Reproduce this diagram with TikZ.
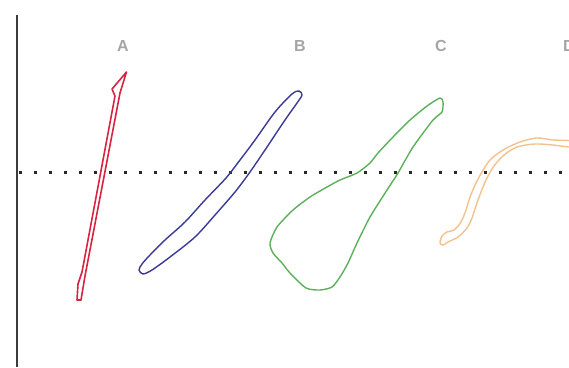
\documentclass[tikz,border=0pt]{standalone}
\usepackage{fontspec}
\setsansfont{Liberation Sans}
\usetikzlibrary{positioning}
\definecolor{axisclr}{RGB}{60,60,60}
\definecolor{dotclr}{RGB}{40,40,40}
\definecolor{lblclr}{RGB}{165,165,165}
\definecolor{loopred}{RGB}{214,36,66}
\definecolor{loopblue}{RGB}{58,58,150}
\definecolor{loopgreen}{RGB}{92,176,92}
\definecolor{looporange}{RGB}{243,194,140}
\tikzset{
  axisln/.style={line width=2pt,color=axisclr},
  refln/.style={line width=3pt,color=dotclr,dash pattern=on 3pt off 12pt},
  lbl/.style={font=\sffamily\bfseries\fontsize{16}{16}\selectfont,
    text=lblclr,inner sep=0pt},
  pvloop/.style={line width=1.4pt,line join=round},
}
\begin{document}
\begin{tikzpicture}[x=1pt,y=-1pt]
  \useasboundingbox (0,0) rectangle (569,367);

  \draw[axisln] (17,15) -- (17,367);
  \draw[refln] (18.5,172) -- (569,172);

  \node[lbl] (lblA) at (123,46) {A};
  \node[lbl] (lblB) at (300,46) {B};
  \node[lbl] (lblC) at (441,46) {C};
  \node[lbl] (lblD) at (569,46) {D};

  % loop A
  \draw[pvloop,line width=1.6pt,loopred] (126.5,72) -- (120,93) -- (85,276)
    -- (81,300) -- (77,300) -- (78,284) -- (82,272) -- (115,96) -- (112,89)
    -- cycle;

  % loop B
  \draw[pvloop,loopblue] plot[smooth cycle,tension=0.5] coordinates{
    (299,91) (292,94) (275,112) (255,140) (240,160) (226,178) (205,200)
    (185,222) (165,240) (150,255) (142,264) (139,270) (143,274) (152,270)
    (170,257) (195,237) (215,215) (235,192) (250,172) (265,150) (285,120)
    (297,103) (302,95)};

  % loop C
  \draw[pvloop,loopgreen] plot[smooth cycle,tension=0.4] coordinates{
    (440,98) (427,106) (410,120) (393,137) (378,153) (370,163) (357,173)
    (340,180) (327,187) (310,197) (293,210) (277,227) (270,243) (273,253)
    (282,263) (290,273) (306,288) (320,290) (332,287) (340,277) (348,263)
    (357,243) (370,217) (387,190) (398,173) (413,147) (433,120) (442,112)
    (443,102)};

  % loop D
  \draw[pvloop,looporange] plot[smooth cycle,tension=0.5] coordinates{
    (440,243) (442,236) (447,232) (454,230) (461,222) (466,210) (470,197)
    (476,183) (482,172) (490,160) (503,150) (520,142) (537,138) (553,140)
    (572,141) (572,147) (553,145) (535,144) (517,147) (504,155) (494,166)
    (486,180) (478,200) (472,218) (467,228) (458,237) (448,242) (443,245)};
\end{tikzpicture}
\end{document}
